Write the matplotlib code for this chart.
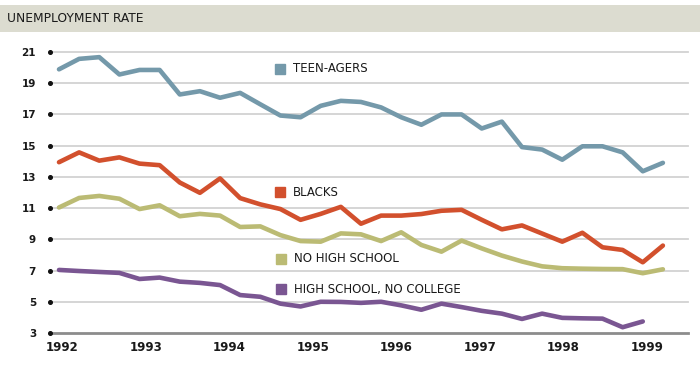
import matplotlib
matplotlib.use("Agg")
import matplotlib.pyplot as plt
from matplotlib.patches import Rectangle
import numpy as np

# ---- data (quarterly observations, 1992 onward) ----
teen = [19.89, 20.56, 20.67, 19.56, 19.85, 19.85, 18.28, 18.49, 18.07, 18.38,
        17.65, 16.93, 16.82, 17.55, 17.87, 17.80, 17.45, 16.82, 16.34, 17.00,
        17.00, 16.10, 16.54, 14.91, 14.75, 14.10, 14.96, 14.96, 14.57, 13.36, 13.90]
blacks = [13.94, 14.57, 14.04, 14.25, 13.85, 13.75, 12.64, 11.98, 12.90, 11.64,
          11.24, 10.94, 10.25, 10.63, 11.08, 10.00, 10.52, 10.52, 10.62, 10.83,
          10.89, 10.25, 9.64, 9.89, 9.37, 8.85, 9.42, 8.49, 8.32, 7.53, 8.60]
no_hs = [11.04, 11.65, 11.78, 11.60, 10.94, 11.18, 10.48, 10.63, 10.52, 9.79,
         9.83, 9.27, 8.89, 8.85, 9.38, 9.32, 8.89, 9.45, 8.64, 8.21,
         8.92, 8.42, 7.96, 7.58, 7.27, 7.15, 7.12, 7.10, 7.09, 6.83, 7.08]
hs_no_college = [7.04, 6.97, 6.91, 6.85, 6.46, 6.55, 6.29, 6.21, 6.07, 5.43,
                 5.32, 4.88, 4.70, 5.00, 4.99, 4.93, 5.00, 4.77, 4.49, 4.88,
                 4.66, 4.42, 4.24, 3.90, 4.24, 3.97, 3.94, 3.92, 3.37, 3.74]

series_names = ["TEEN-AGERS", "BLACKS", "NO HIGH SCHOOL", "HIGH SCHOOL, NO COLLEGE"]
series_colors = ["#7499aa", "#d2502d", "#bbbb74", "#7a5692"]
years = ["1992", "1993", "1994", "1995", "1996", "1997", "1998", "1999"]
y_ticks = [3, 5, 7, 9, 11, 13, 15, 17, 19, 21]
title = "UNEMPLOYMENT RATE"

# ---- layout ----
W, H = 700, 388
fig = plt.figure(figsize=(W / 100, H / 100), dpi=100)
fig.patch.set_facecolor("white")

def fx(px):
    return px / W

def fy(py):
    return 1 - py / H

# header band
fig.patches.append(Rectangle((0, fy(32)), 1, 27 / H, transform=fig.transFigure,
                             facecolor="#dcdcd0", edgecolor="none", zorder=0))
fig.text(fx(7), fy(18.5), title, fontsize=8.8, color="#1a1a1a",
         va="center", ha="left", family="DejaVu Sans")

ax_l, ax_r, ax_t, ax_b = 50, 688, 52, 333
ax = fig.add_axes([fx(ax_l), fy(ax_b), (ax_r - ax_l) / W, (ax_b - ax_t) / H])
ax.set_facecolor("none")

x0_px, step_px = 59, 20.13
ax.set_xlim((ax_l - x0_px) / step_px, (ax_r - x0_px) / step_px)
ax.set_ylim(3, 21)
for s in ax.spines.values():
    s.set_visible(False)

# grid lines
for t in y_ticks:
    if t == 3:
        ax.axhline(t, color="#8c8c8c", lw=2.0, zorder=1, clip_on=False)
    else:
        ax.axhline(t, color="#d2d2d2", lw=1.3, zorder=1, clip_on=False)

# tick dots
ax.plot([0] * len(y_ticks), y_ticks, "o", ms=2.6, color="#111111",
        transform=ax.get_yaxis_transform(), clip_on=False, zorder=3)

ax.set_yticks(y_ticks)
ax.set_yticklabels([str(t) for t in y_ticks])
ax.tick_params(axis="y", length=0, pad=10, labelsize=7.5, labelcolor="#1a1a1a")

year_pos = [(62 - x0_px) / step_px + i * (83.6 / step_px) for i in range(len(years))]
ax.set_xticks(year_pos)
ax.set_xticklabels(years)
ax.tick_params(axis="x", length=0, pad=6, labelsize=8.5, labelcolor="#1a1a1a")
for lab in ax.get_xticklabels() + ax.get_yticklabels():
    lab.set_fontweight("bold")

# lines
for vals, col in zip([teen, blacks, no_hs, hs_no_college], series_colors):
    ax.plot(np.arange(len(vals)), vals, color=col, lw=3.3,
            solid_capstyle="round", solid_joinstyle="round", zorder=4, clip_on=False)

# legend labels
legend_pos = [(280, 69), (280, 192), (281, 259), (281, 289)]
for (px, py), name, col in zip(legend_pos, series_names, series_colors):
    fig.lines.append(plt.Line2D([fx(px)], [fy(py)], marker="s", ms=6.5, color=col,
                                transform=fig.transFigure, lw=0))
    fig.text(fx(px + 13), fy(py), name, fontsize=8.5, color="#1a1a1a",
             va="center", ha="left", family="DejaVu Sans")

fig.savefig("out.png", dpi=100)
